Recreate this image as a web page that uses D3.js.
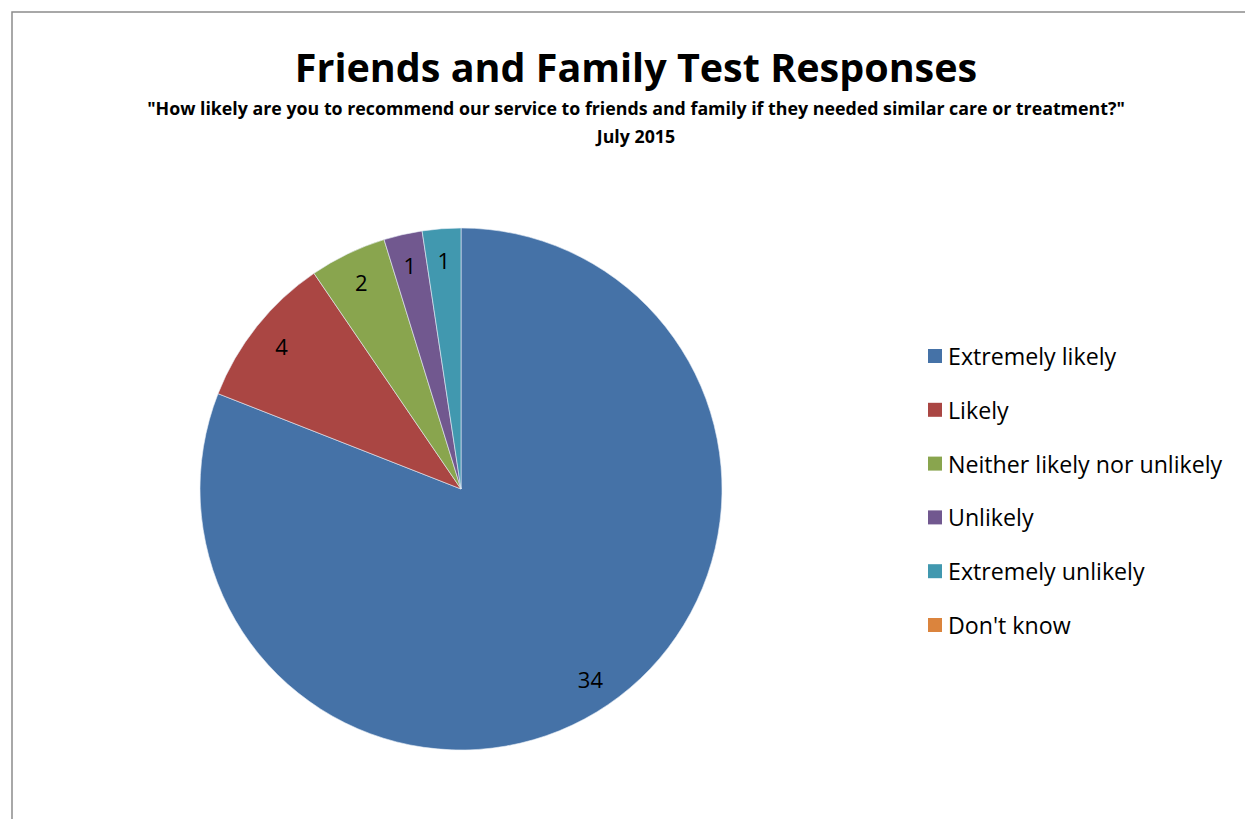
<!DOCTYPE html>
<html>
<head>
<meta charset="utf-8">
<script src="https://cdn.jsdelivr.net/npm/d3@7"></script>
<style>
  body { margin: 0; background: #fff; }
  svg { display: block; font-family: "Open Sans", Lato, sans-serif; }
</style>
</head>
<body>
<svg id="chart" width="1245" height="819"></svg>
<script>
const categories = ['Extremely likely', 'Likely', 'Neither likely nor unlikely', 'Unlikely', 'Extremely unlikely', "Don't know"]
const responses = [34, 4, 2, 1, 1, 0]
const colours = ['#4572A7', '#AA4643', '#89A54E', '#71588F', '#4198AF', '#DB843D']

const title = 'Friends and Family Test Responses'
const subtitle = '"How likely are you to recommend our service to friends and family if they needed similar care or treatment?"'
const period = 'July 2015'

const svg = d3.select('#chart')

// chart area border (only top and left edges are visible in the frame)
svg.append('rect')
  .attr('x', 12)
  .attr('y', 12)
  .attr('width', 1300)
  .attr('height', 900)
  .attr('fill', '#fff')
  .attr('stroke', '#8c8c8c')
  .attr('stroke-width', 1.5)

// titles
svg.append('text')
  .attr('x', 636)
  .attr('y', 82)
  .attr('text-anchor', 'middle')
  .attr('font-size', 39.5)
  .attr('font-weight', 'bold')
  .text(title)

svg.append('text')
  .attr('x', 636)
  .attr('y', 115)
  .attr('text-anchor', 'middle')
  .attr('font-size', 17.8)
  .attr('font-weight', 'bold')
  .text(subtitle)

svg.append('text')
  .attr('x', 636)
  .attr('y', 143)
  .attr('text-anchor', 'middle')
  .attr('font-size', 17.8)
  .attr('font-weight', 'bold')
  .text(period)

// pie
const cx = 461, cy = 489, radius = 261

const colour = d3.scaleOrdinal()
  .domain(categories)
  .range(colours)

const pie = d3.pie()
  .sort(null)
  .value(function(d, i) { return responses[i] })

const arcs = pie(categories)

const arc = d3.arc()
  .innerRadius(0)
  .outerRadius(radius)

const labelArc = d3.arc()
  .innerRadius(radius * 0.88)
  .outerRadius(radius * 0.88)

const pieGroup = svg.append('g')
  .attr('transform', `translate(${cx}, ${cy})`)

pieGroup.selectAll('path')
  .data(arcs.filter(function(d) { return d.value > 0 }))
  .enter()
  .append('path')
    .attr('d', arc)
    .attr('fill', function(d) { return colour(d.data) })
    .attr('stroke', '#e8eef6')
    .attr('stroke-width', 0.6)

pieGroup.selectAll('text')
  .data(arcs.filter(function(d) { return d.value > 0 }))
  .enter()
  .append('text')
    .attr('transform', function(d) { return `translate(${labelArc.centroid(d)})` })
    .attr('text-anchor', 'middle')
    .attr('dominant-baseline', 'central')
    .attr('font-size', 22)
    .attr('fill', '#000')
    .text(function(d) { return d.value })

// legend
const legendY = d3.scalePoint()
  .domain(categories)
  .range([356, 625])

const legend = svg.append('g')
  .selectAll('g')
  .data(categories)
  .enter()
  .append('g')
    .attr('transform', function(d) { return `translate(928, ${legendY(d)})` })

legend.append('rect')
  .attr('x', 0)
  .attr('y', -7)
  .attr('width', 14)
  .attr('height', 14)
  .attr('fill', function(d) { return colour(d) })

legend.append('text')
  .attr('x', 20)
  .attr('y', 0)
  .attr('dominant-baseline', 'central')
  .attr('font-size', 23.2)
  .attr('fill', '#000')
  .text(function(d) { return d })
</script>
</body>
</html>
